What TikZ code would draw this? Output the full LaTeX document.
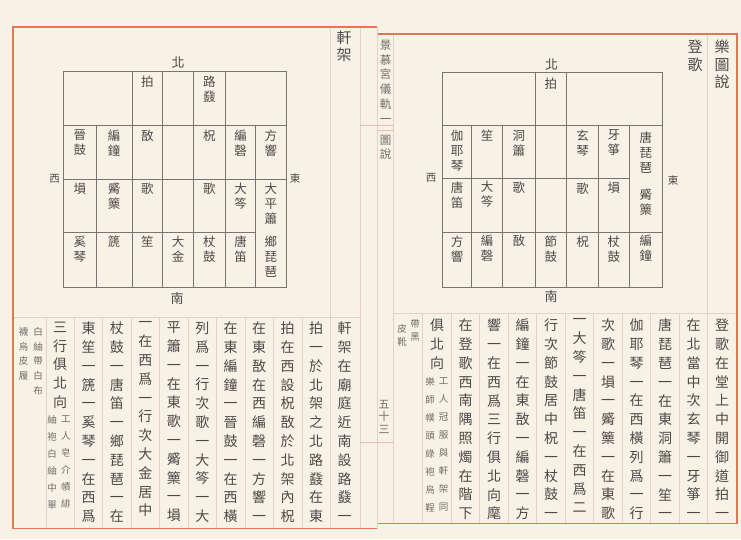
\documentclass[tikz,border=0pt]{standalone}
\usepackage{fontspec}
\newfontfamily\cjk{Noto Sans CJK TC}
\definecolor{paper}{RGB}{248,242,230}
\definecolor{redbd}{RGB}{228,118,88}
\definecolor{faintc}{RGB}{226,210,200}
\definecolor{pinkc}{RGB}{236,190,180}
\definecolor{gridc}{RGB}{120,118,115}
\definecolor{ink}{RGB}{76,74,72}
\definecolor{inksoft}{RGB}{112,108,104}
\ExplSyntaxOn
\seq_new:N \g__vt_seq
\NewDocumentCommand\vnode{O{}mmm}
  {
    \seq_gclear:N \g__vt_seq
    \tl_map_inline:nn {#4} { \seq_gput_right:Nn \g__vt_seq {##1} }
    \node[vt,#1]~(#2)~at~(#3)~{\seq_use:Nn \g__vt_seq {\\}};
  }
\ExplSyntaxOff
\tikzset{
  vt/.style={inner sep=0pt, anchor=north, align=center, text width=20pt, text=ink},
  body/.style={font=\cjk\fontsize{14}{18.8}\selectfont},
  cell/.style={font=\cjk\fontsize{12.5}{15}\selectfont},
  head/.style={font=\cjk\fontsize{15}{17.8}\selectfont},
  banx/.style={font=\cjk\fontsize{11.5}{14.8}\selectfont, text=inksoft},
  pagen/.style={font=\cjk\fontsize{11}{12.6}\selectfont, text=inksoft},
  notea/.style={font=\cjk\fontsize{9.5}{16.9}\selectfont, text=inksoft},
  noteb/.style={font=\cjk\fontsize{9.5}{14.7}\selectfont, text=inksoft},
  notec/.style={font=\cjk\fontsize{9.5}{18.1}\selectfont, text=inksoft},
  noted/.style={font=\cjk\fontsize{9.5}{13}\selectfont, text=inksoft},
  dirl/.style={inner sep=0pt, text=ink, font=\cjk\fontsize{13}{13}\selectfont},
  sidel/.style={inner sep=0pt, text=ink, font=\cjk\fontsize{10.5}{11}\selectfont},
  redline/.style={draw=redbd, line width=1.9pt},
  faint/.style={draw=faintc, line width=0.6pt},
  pinkl/.style={draw=pinkc, line width=0.7pt},
  gridl/.style={draw=gridc, line width=0.75pt}
}
\begin{document}
\begin{tikzpicture}[x=1pt,y=-1pt]
\useasboundingbox (0,0) rectangle (741,539);
\fill[paper] (0,0) rectangle (741,539);

% ---------- page frames ----------
\draw[faint] (330.3,26.7) -- (330.3,528.5);
\draw[faint] (360,26.7) -- (360,528.5);
\draw[faint] (377.3,26.7) -- (377.3,528.5);
\draw[faint] (12.7,317) -- (360,317);
\foreach \x in {301.8,273.4,244.9,216.5,188,159.6,131.1,102.7,74.2,45.8}
  \draw[faint] (\x,317) -- (\x,528.5);
\draw[faint] (393.5,34) -- (393.5,523.5);
\draw[faint] (707.75,34) -- (707.75,523.5);
\draw[faint] (393.5,313) -- (736.7,313);
\foreach \x in {422.75,451.25,479.75,508.25,536.75,565.25,593.75,622.25,650.75,679.25}
  \draw[faint] (\x,313) -- (\x,523.5);
\draw[pinkl] (360,125) -- (394,125);
\draw[pinkl] (378,130.5) -- (394,130.5);
\draw[pinkl] (360,442) -- (393.5,442);
\draw[redline] (377,26.7) -- (12.7,26.7) -- (12.7,528.5) -- (377,528.5);
\draw[redline] (378,34) -- (736.7,34) -- (736.7,523.5) -- (378,523.5);

% ---------- left grid (軒架) ----------
\draw[gridl] (63.5,71) rectangle (286,287);
\draw[gridl] (63.5,125) -- (286,125);
\draw[gridl] (63.5,179.3) -- (286,179.3);
\draw[gridl] (63.5,232.7) -- (255.5,232.7);
\foreach \x in {132,162.7,193.3,225.5} \draw[gridl] (\x,71) -- (\x,287);
\foreach \x in {96,255.5} \draw[gridl] (\x,125) -- (\x,287);

\node[dirl] (Ln) at (178,62.5) {北};
\node[dirl] (Ls) at (177,298.5) {南};
\node[sidel] (Lw) at (54.5,178.5) {西};
\node[sidel] (Le) at (295,178.5) {東};

\vnode[cell]{La1}{147.35,75.8}{拍}
\vnode[cell]{La2}{209.4,75.8}{路鼗}
\vnode[cell]{Lb1}{79.75,129.6}{晉鼓}
\vnode[cell]{Lb2}{114,129.6}{編鐘}
\vnode[cell]{Lb3}{147.35,129.6}{敔}
\vnode[cell]{Lb5}{209.4,129.6}{柷}
\vnode[cell]{Lb6}{240.5,129.6}{編磬}
\vnode[cell]{Lb7}{270.75,129.6}{方響}
\vnode[cell]{Lc1}{79.75,182.6}{塤}
\vnode[cell]{Lc2}{114,182.6}{觱篥}
\vnode[cell]{Lc3}{147.35,182.6}{歌}
\vnode[cell]{Lc5}{209.4,182.6}{歌}
\vnode[cell]{Lc6}{240.5,182.6}{大笒}
\vnode[cell]{Lc7}{270.75,182.6}{大平簫}
\vnode[cell]{Ld1}{79.75,236}{奚琴}
\vnode[cell]{Ld2}{114,236}{篪}
\vnode[cell]{Ld3}{147.35,236}{笙}
\vnode[cell]{Ld4}{178,236}{大金}
\vnode[cell]{Ld5}{209.4,236}{杖鼓}
\vnode[cell]{Ld6}{240.5,236}{唐笛}
\vnode[cell]{Ld7}{270.75,236}{鄉琵琶}

% ---------- right grid (登歌) ----------
\draw[gridl] (442.7,72) rectangle (662.3,287);
\draw[gridl] (442.7,125.5) -- (662.3,125.5);
\draw[gridl] (442.7,178.5) -- (629.3,178.5);
\draw[gridl] (442.7,232) -- (662.3,232);
\foreach \x in {535,566.7} \draw[gridl] (\x,72) -- (\x,287);
\foreach \x in {471.7,502.7,598.3,629.3} \draw[gridl] (\x,125.5) -- (\x,287);

\node[dirl] (Rn) at (551.5,64.5) {北};
\node[dirl] (Rs) at (551,296.5) {南};
\node[sidel] (Rw) at (431,177.5) {西};
\node[sidel] (Re) at (673,181) {東};

\vnode[cell]{Ra1}{550.85,77.3}{拍}
\vnode[cell]{Rb1}{457.2,129.8}{伽耶琴}
\vnode[cell]{Rb2}{487.2,129.8}{笙}
\vnode[cell]{Rb3}{518.85,129.8}{洞簫}
\vnode[cell]{Rb5}{582.5,129.8}{玄琴}
\vnode[cell]{Rb6}{613.8,129.8}{牙箏}
\vnode[cell]{Rb7}{645.8,131.3}{唐琵琶}
\vnode[cell]{Rc1}{457.2,181.3}{唐笛}
\vnode[cell]{Rc2}{487.2,181.3}{大笒}
\vnode[cell]{Rc3}{518.85,181.3}{歌}
\vnode[cell]{Rc5}{582.5,182.3}{歌}
\vnode[cell]{Rc6}{613.8,182.3}{塤}
\vnode[cell]{Rc7}{645.8,188.3}{觱篥}
\vnode[cell]{Rd1}{457.2,235.3}{方響}
\vnode[cell]{Rd2}{487.2,235.3}{編磬}
\vnode[cell]{Rd3}{518.85,235.3}{敔}
\vnode[cell]{Rd4}{550.85,235.3}{節鼓}
\vnode[cell]{Rd5}{582.5,235.3}{柷}
\vnode[cell]{Rd6}{613.8,235.3}{杖鼓}
\vnode[cell]{Rd7}{645.8,235.3}{編鐘}

% ---------- headers ----------
\vnode[head]{hL}{344,30.3}{軒架}
\vnode[head]{hR1}{722,39.5}{樂圖說}
\vnode[head]{hR2}{695,39.5}{登歌}
\vnode[banx]{bx1}{385.5,39.8}{景慕宮儀軌一}
\vnode[banx]{bx2}{385.5,134.8}{圖說}
\vnode[pagen]{pg}{384,400}{五十三}

% ---------- left body text ----------
\vnode[body]{L1}{344.5,321.7}{軒架在廟庭近南設路鼗一}
\vnode[body]{L2}{316,321.7}{拍一於北架之北路鼗在東}
\vnode[body]{L3}{287.6,321.7}{拍在西設柷敔於北架內柷}
\vnode[body]{L4}{259.2,321.7}{在東敔在西編磬一方響一}
\vnode[body]{L5}{230.7,321.7}{在東編鐘一晉鼓一在西橫}
\vnode[body]{L6}{202.3,321.7}{列爲一行次歌一大笒一大}
\vnode[body]{L7}{173.8,321.7}{平簫一在東歌一觱篥一塤}
\vnode[body]{L8}{145.4,321.7}{一在西爲一行次大金居中}
\vnode[body]{L9}{116.9,321.7}{杖鼓一唐笛一鄉琵琶一在}
\vnode[body]{L10}{88.5,321.7}{東笙一篪一奚琴一在西爲}
\vnode[body]{L11}{60,321.7}{三行俱北向}
\vnode[notea]{L11a}{66,415.5}{工人皂介幘緋}
\vnode[notea]{L11b}{52,415.5}{紬袍白紬中單}
\vnode[noteb]{L12a}{38,327.2}{白紬帶白布}
\vnode[noteb]{L12b}{23.5,327.2}{襪烏皮履}

% ---------- right body text ----------
\vnode[body]{R1}{722,318.7}{登歌在堂上中開御道拍一}
\vnode[body]{R2}{693.5,318.7}{在北當中次玄琴一牙箏一}
\vnode[body]{R3}{665,318.7}{唐琵琶一在東洞簫一笙一}
\vnode[body]{R4}{636.5,318.7}{伽耶琴一在西橫列爲一行}
\vnode[body]{R5}{608,318.7}{次歌一塤一觱篥一在東歌}
\vnode[body]{R6}{579.5,318.7}{一大笒一唐笛一在西爲二}
\vnode[body]{R7}{551,318.7}{行次節鼓居中柷一杖鼓一}
\vnode[body]{R8}{522.5,318.7}{編鐘一在東敔一編磬一方}
\vnode[body]{R9}{494,318.7}{響一在西爲三行俱北向麾}
\vnode[body]{R10}{465.5,318.7}{在登歌西南隅照燭在階下}
\vnode[body]{R11}{437,318.7}{俱北向}
\vnode[notec]{R11a}{443.5,377}{工人冠服與軒架同}
\vnode[notec]{R11b}{430,377}{樂師幞頭綠袍烏鞓}
\vnode[noted]{R12a}{415,319.5}{帶黑}
\vnode[noted]{R12b}{402,324.5}{皮靴}
\end{tikzpicture}
\end{document}
